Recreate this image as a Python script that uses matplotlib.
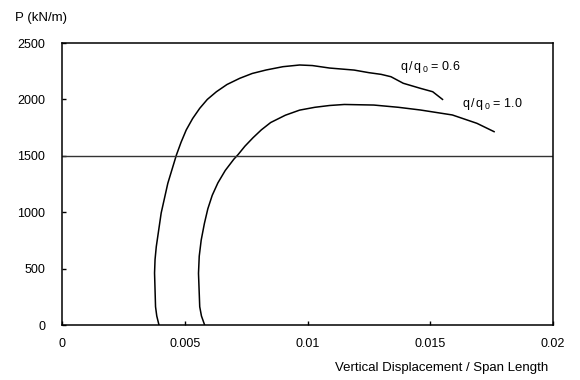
import matplotlib
matplotlib.use("Agg")
import matplotlib.pyplot as plt

plt.rcParams['font.family'] = ['Liberation Sans', 'DejaVu Sans']
plt.rcParams['mathtext.fontset'] = 'custom'
plt.rcParams['mathtext.rm'] = 'Liberation Sans'
plt.rcParams['mathtext.it'] = 'Liberation Sans:italic'

# curve q/q0 = 0.6
disp_06 = [0.00395, 0.00386, 0.00381, 0.00377, 0.00379, 0.00384, 0.00404, 0.00431,
           0.00466, 0.00485, 0.00506, 0.00532, 0.00561, 0.00592, 0.00629, 0.00672,
           0.00724, 0.00775, 0.00832, 0.0090, 0.00968, 0.0102, 0.0109, 0.0119,
           0.0125, 0.0130, 0.0134, 0.0139, 0.0146, 0.0151, 0.0155]
load_06 = [0, 80, 162, 461, 580, 694, 993, 1256,
           1507, 1620, 1729, 1830, 1921, 2000, 2068, 2132,
           2187, 2230, 2261, 2290, 2305, 2300, 2278, 2260,
           2237, 2222, 2201, 2143, 2098, 2068, 2000]

# curve q/q0 = 1.0
disp_10 = [0.00581, 0.00568, 0.00561, 0.00556, 0.00559, 0.00567, 0.00580, 0.00594,
           0.00612, 0.00635, 0.00665, 0.00700, 0.00717, 0.00745, 0.00778, 0.00812,
           0.00850, 0.0091, 0.00968, 0.0103, 0.0109, 0.0115, 0.0127, 0.0137,
           0.0146, 0.0159, 0.0169, 0.0176]
load_10 = [0, 80, 162, 458, 610, 753, 900, 1030,
           1150, 1260, 1370, 1470, 1510, 1585, 1660, 1730,
           1795, 1860, 1905, 1930, 1946, 1955, 1950, 1930,
           1906, 1862, 1788, 1714]

ref_load = 1500

x_ticks = [0, 0.005, 0.01, 0.015, 0.02]
x_labels = ['0', '0.005', '0.01', '0.015', '0.02']
y_ticks = [0, 500, 1000, 1500, 2000, 2500]

fig = plt.figure(figsize=(5.8, 3.8), dpi=100)
ax = fig.add_axes([62 / 580, 1 - 325 / 380, 491 / 580, 282 / 380])

ax.plot(disp_06, load_06, color='black', lw=1.1)
ax.plot(disp_10, load_10, color='black', lw=1.1)
ax.axhline(ref_load, color='#333333', lw=1.0)

ax.set_xlim(0, 0.02)
ax.set_ylim(0, 2500)
ax.set_xticks(x_ticks)
ax.set_xticklabels(x_labels)
ax.set_yticks(y_ticks)
ax.tick_params(direction='in', length=3, width=1, labelsize=9)
ax.tick_params(axis='y', pad=12)
ax.tick_params(axis='x', pad=9.5)
for s in ax.spines.values():
    s.set_linewidth(1.1)

ax.text(0.01376, 2287, r'$\mathregular{q\,/\,q_{\,0}}$ = 0.6', fontsize=9, va='center', ha='left')
ax.text(0.01629, 1959, r'$\mathregular{q\,/\,q_{\,0}}$ = 1.0', fontsize=9, va='center', ha='left')

fig.text(15 / 580, 1 - 18 / 380, 'P (kN/m)', fontsize=9.5, va='center', ha='left')
fig.text(548 / 580, 1 - 368 / 380, 'Vertical Displacement / Span Length', fontsize=9.5,
         va='center', ha='right')

fig.savefig('out.png', dpi=100)
